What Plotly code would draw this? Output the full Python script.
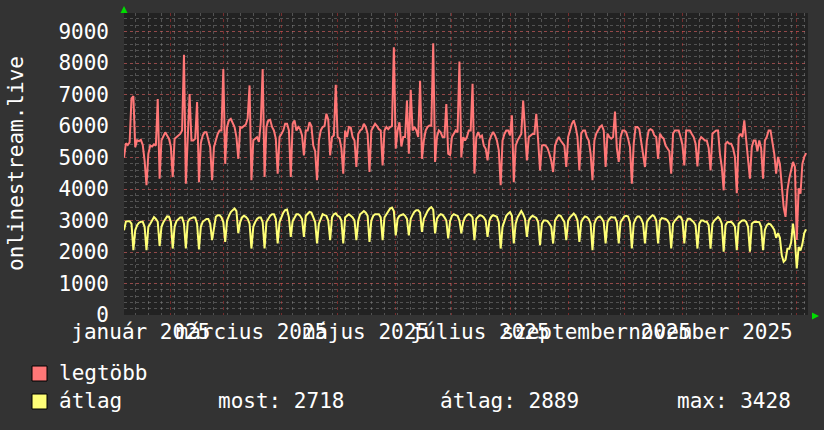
import plotly.graph_objects as go
import pandas as pd

# ---------------- data (daily values) ----------------
start_date = "2025-01-07"
range_start = "2025-01-07"
range_end = "2026-01-07"

# legtöbb (daily maximum) – rows are Mon..Sun weeks (first row starts on Tuesday)
legtobb = [
    5000, 5450, 5400, 5480, 6880, 6950,
    5330, 5550, 5520, 5560, 5400, 4900, 4120,
    5120, 5380, 5350, 5420, 5380, 6860, 4330,
    5550, 5700, 5800, 5700, 5600, 5350, 4380,
    5600, 5650, 5700, 5750, 5860, 8260, 4170,
    5650, 7020, 5540, 5540, 5600, 6760, 4220,
    5450, 5700, 5800, 5800, 5600, 5330, 4280,
    5330, 5540, 5750, 5860, 5860, 7810, 4800,
    5970, 6180, 6230, 6120, 5970, 5650, 4960,
    5970, 5950, 6000, 6050, 6250, 7290, 4280,
    5550, 5600, 5650, 5500, 6120, 7810, 4380,
    5970, 6180, 6200, 5970, 5860, 5600, 4490,
    5650, 5750, 5860, 6070, 6070, 5860, 4380,
    6070, 6180, 5860, 5970, 5900, 5700, 5070,
    5860, 5860, 6120, 6000, 5380, 5200, 4280,
    5540, 5860, 5970, 6000, 6390, 6200, 5070,
    5650, 5700, 7310, 5650, 5600, 5300, 4490,
    5860, 5650, 5970, 5950, 5650, 5540, 4700,
    5750, 5860, 5900, 6070, 5970, 5750, 4540,
    5860, 5950, 6070, 6000, 5900, 5860, 4750,
    5860, 5970, 5900, 5970, 6000, 8500, 5280,
    5860, 6120, 5350, 5650, 5650, 6810, 5120,
    7150, 5860, 5970, 5860, 5650, 7440, 4960,
    5540, 5860, 5970, 6020, 6020, 8630, 4860,
    5650, 5860, 5800, 5650, 5650, 6700, 5120,
    5080, 5650, 5750, 5860, 5800, 8050, 5020,
    5650, 5540, 5650, 5860, 5860, 7340, 4490,
    5650, 5810, 5650, 5700, 5380, 5280, 4910,
    5540, 5700, 5810, 5700, 5540, 5230, 4120,
    5540, 5750, 5860, 5860, 5700, 6340, 4220,
    5380, 5540, 5650, 5750, 6810, 5750, 4910,
    5650, 5700, 5750, 5750, 6390, 5540, 4590,
    5380, 5400, 5380, 5300, 5120, 4900, 4540,
    5380, 5540, 5650, 5540, 5450, 5380, 4700,
    5650, 5860, 6070, 6180, 5970, 5650, 4590,
    5760, 5860, 5860, 5650, 5540, 5120, 4280,
    5540, 5760, 5860, 5970, 6020, 5860, 4700,
    5760, 5650, 5600, 5650, 6460, 5300, 4860,
    5650, 5860, 5860, 5800, 5600, 5330, 4170,
    5440, 5970, 5970, 5900, 5440, 5020, 4700,
    5540, 5860, 5900, 5860, 5700, 5650, 4960,
    5760, 5650, 5600, 5380, 5300, 5200, 4490,
    5760, 5860, 5860, 5860, 5650, 5400, 4750,
    5860, 5860, 5860, 5750, 5650, 5440, 4720,
    5540, 5650, 5600, 5540, 5540, 5300, 4590,
    5760, 5810, 5860, 5860, 5120, 4700, 3960,
    5440, 5500, 5440, 5440, 5300, 5020, 3870,
    5650, 5760, 5650, 6180, 5540, 5100, 4330,
    5330, 5540, 5540, 5200, 5540, 5300, 4330,
    5540, 5650, 5860, 5860, 5540, 5120, 4490,
    5020, 4800, 4000, 3430, 3115, 3960, 4330,
    4600, 4860, 4700, 2380, 4020, 3850, 4800,
    5020, 5140,
]

# átlag (daily average)
atlag = [
    2690, 2960, 2980, 2980, 2900, 2060,
    2690, 2850, 2930, 2960, 2960, 2800, 2060,
    2800, 2900, 3000, 3110, 3050, 2960, 2190,
    2800, 2950, 3050, 3130, 3120, 2960, 2110,
    2800, 2980, 3050, 3100, 3100, 2900, 2110,
    2950, 3050, 3080, 3100, 3090, 2900, 2080,
    2800, 2960, 3020, 3050, 3050, 2900, 2380,
    2800, 3120, 3170, 3170, 3100, 2950, 2320,
    3000, 3150, 3270, 3330, 3380, 3300, 2600,
    2950, 3100, 3150, 3120, 3050, 2900, 2110,
    2800, 2950, 3050, 3100, 3100, 2950, 2110,
    2950, 3050, 3150, 3200, 3200, 3050, 2270,
    2950, 3100, 3250, 3330, 3350, 3100, 2480,
    2980, 3100, 3200, 3200, 3150, 3050, 2480,
    3150, 3200, 3270, 3250, 3100, 2950, 2270,
    2900, 3050, 3200, 3170, 3150, 3000, 2380,
    3100, 3200, 3230, 3150, 3120, 3000, 2270,
    3100, 3150, 3200, 3150, 3100, 3000, 2380,
    3000, 3200, 3250, 3300, 3250, 3150, 2320,
    3000, 3150, 3200, 3200, 3200, 3100, 2380,
    3100, 3200, 3300, 3380, 3410, 3300, 2530,
    3050, 3150, 3180, 3200, 3150, 3050, 2530,
    3050, 3180, 3280, 3330, 3330, 3250, 2640,
    3050, 3200, 3300, 3380, 3428, 3350, 2590,
    3050, 3150, 3200, 3180, 3100, 3000, 2430,
    2980, 3150, 3200, 3170, 3150, 3000, 2590,
    2950, 3100, 3170, 3200, 3170, 3100, 2380,
    3050, 3120, 3170, 3150, 3100, 3000, 2480,
    3000, 3120, 3170, 3150, 3120, 2950, 2110,
    2800, 3000, 3150, 3220, 3270, 3150, 2270,
    2900, 3100, 3200, 3300, 3200, 3050, 2480,
    3000, 3100, 3150, 3120, 3080, 2950, 2220,
    2900, 3000, 3000, 2980, 2900, 2800, 2270,
    3000, 3100, 3170, 3150, 3050, 2950, 2380,
    3000, 3100, 3170, 3220, 3150, 3000, 2320,
    2950, 3060, 3130, 3110, 3050, 2900, 2060,
    2900, 3050, 3110, 3130, 3060, 2950, 2270,
    2950, 3050, 3110, 3100, 3100, 2950, 2270,
    2950, 3060, 3130, 3150, 3130, 2950, 2110,
    2900, 3050, 3130, 3130, 3050, 2900, 2270,
    2950, 3050, 3130, 3170, 3130, 3000, 2270,
    3000, 3080, 3060, 3050, 3000, 2900, 2110,
    2900, 3000, 3080, 3130, 3120, 3000, 2270,
    2950, 3060, 3060, 3000, 2950, 2850, 2110,
    2900, 3000, 3000, 2960, 2960, 2850, 2110,
    2900, 3000, 3060, 3115, 3050, 2900, 2010,
    2850, 2950, 2960, 2960, 2900, 2800, 2060,
    2900, 2960, 3000, 3010, 2960, 2800, 2010,
    2900, 2950, 2960, 2960, 2950, 2800, 2060,
    2700, 2850, 2900, 2880, 2800, 2700, 2450,
    2600, 2450, 1900, 1690, 1750, 2100, 2100,
    2300, 2900, 2400, 1480, 2160, 2050, 2250,
    2600, 2718,
]

month_grid_start = "2025-01-01"
week_grid_start = "2025-01-06"
month_label_dates = ["2025-01-16", "2025-03-16", "2025-05-16",
                     "2025-07-16", "2025-09-16", "2025-11-16"]
month_labels = ["január 2025", "március 2025", "május 2025",
                "július 2025", "szeptember 2025", "november 2025"]
y_ticks = [0, 1000, 2000, 3000, 4000, 5000, 6000, 7000, 8000, 9000]
y_max = 9590
y_title = "onlinestream.live"
series_names = ["legtöbb", "átlag"]
stat_texts = ["most: 2718", "átlag: 2889", "max: 3428"]

# ---------------- styling ----------------
RED = "#FF7777"
YEL = "#FFFF77"
BG = "#333333"
CANVAS = "#222222"
GRID = "rgba(150,150,150,0.42)"
MGRID = "rgba(255,60,60,0.38)"
FONT = "DejaVu Sans Mono"
FS = 21

W, H = 824, 430
ML, MR, MT, MB = 124, 16, 13, 115
PW, PH = W - ML - MR, H - MT - MB


def px(xp):
    return (xp - ML) / PW


def py(yp):
    return (H - MB - yp) / PH


dates = pd.date_range(start_date, periods=len(legtobb), freq="D")

fig = go.Figure()
fig.add_trace(go.Scatter(x=dates, y=atlag, mode="lines", name=series_names[1],
                         line=dict(color=YEL, width=2), xaxis="x", yaxis="y",
                         hoverinfo="skip"))
fig.add_trace(go.Scatter(x=dates, y=legtobb, mode="lines", name=series_names[0],
                         line=dict(color=RED, width=2), xaxis="x2", yaxis="y",
                         hoverinfo="skip"))

fig.update_layout(
    width=W, height=H,
    margin=dict(l=ML, r=MR, t=MT, b=MB, pad=0),
    paper_bgcolor=BG, plot_bgcolor=CANVAS,
    font=dict(family=FONT, size=FS, color="#ffffff"),
    showlegend=False,
    xaxis=dict(
        type="date", range=[range_start, range_end],
        tickmode="linear", tick0=month_grid_start, dtick="M1",
        showticklabels=False, ticks="", zeroline=False, showline=False,
        showgrid=True, gridcolor=MGRID, griddash="dot", gridwidth=1,
        minor=dict(tick0=week_grid_start, dtick=7 * 86400000, showgrid=True,
                   gridcolor=GRID, griddash="dot", gridwidth=1, ticks=""),
    ),
    xaxis2=dict(
        type="date", overlaying="x", side="bottom", range=[range_start, range_end],
        tickmode="array", tickvals=month_label_dates, ticktext=month_labels,
        tickangle=0, showgrid=False, ticks="", zeroline=False, showline=False,
        ticklabelstandoff=2, tickfont=dict(family=FONT, size=FS, color="#ffffff"),
    ),
    yaxis=dict(
        range=[0, y_max], tickmode="array", tickvals=y_ticks,
        ticks="", zeroline=False, showline=False,
        showgrid=True, gridcolor=MGRID, griddash="dot", gridwidth=1,
        minor=dict(tick0=0, dtick=200, showgrid=True, gridcolor=GRID,
                   griddash="dot", gridwidth=1, ticks=""),
        ticklabelstandoff=14, tickfont=dict(family=FONT, size=FS, color="#ffffff"),
    ),
)

ann = []
ann.append(dict(text=y_title, xref="paper", yref="paper", x=px(16), y=0.5,
                xanchor="center", yanchor="middle", textangle=-90, showarrow=False,
                font=dict(family=FONT, size=FS, color="#ffffff")))
ann.append(dict(text=series_names[0], xref="paper", yref="paper", x=px(57), y=py(373),
                xanchor="left", yanchor="middle", showarrow=False,
                font=dict(family=FONT, size=FS, color="#ffffff")))
ann.append(dict(text=series_names[1], xref="paper", yref="paper", x=px(57), y=py(401),
                xanchor="left", yanchor="middle", showarrow=False,
                font=dict(family=FONT, size=FS, color="#ffffff")))
for t, xl in zip(stat_texts, [216, 438, 675]):
    ann.append(dict(text=t, xref="paper", yref="paper", x=px(xl), y=py(401),
                    xanchor="left", yanchor="middle", showarrow=False,
                    font=dict(family=FONT, size=FS, color="#ffffff")))
fig.update_layout(annotations=ann)

shapes = []
for col, (y0, y1) in zip([RED, YEL], [(366, 381), (394, 409)]):
    shapes.append(dict(type="rect", xref="paper", yref="paper",
                       x0=px(32), x1=px(47), y0=py(y1), y1=py(y0),
                       fillcolor=col, line=dict(color="#000000", width=1)))


def tri(points):
    d = "M " + " L ".join(f"{px(a):.5f},{py(b):.5f}" for a, b in points) + " Z"
    return dict(type="path", xref="paper", yref="paper", path=d,
                fillcolor="#00DD00", line=dict(color="#00DD00", width=0))


shapes.append(tri([(124, 6), (120.5, 13), (127.5, 13)]))
shapes.append(tri([(819, 316), (812, 312.5), (812, 319.5)]))
fig.update_layout(shapes=shapes)

fig.write_html(
    "out.html",
    config={"displayModeBar": False, "staticPlot": True},
    post_script="document.body.style.margin='0';"
                "document.body.style.background='#333333';",
)
